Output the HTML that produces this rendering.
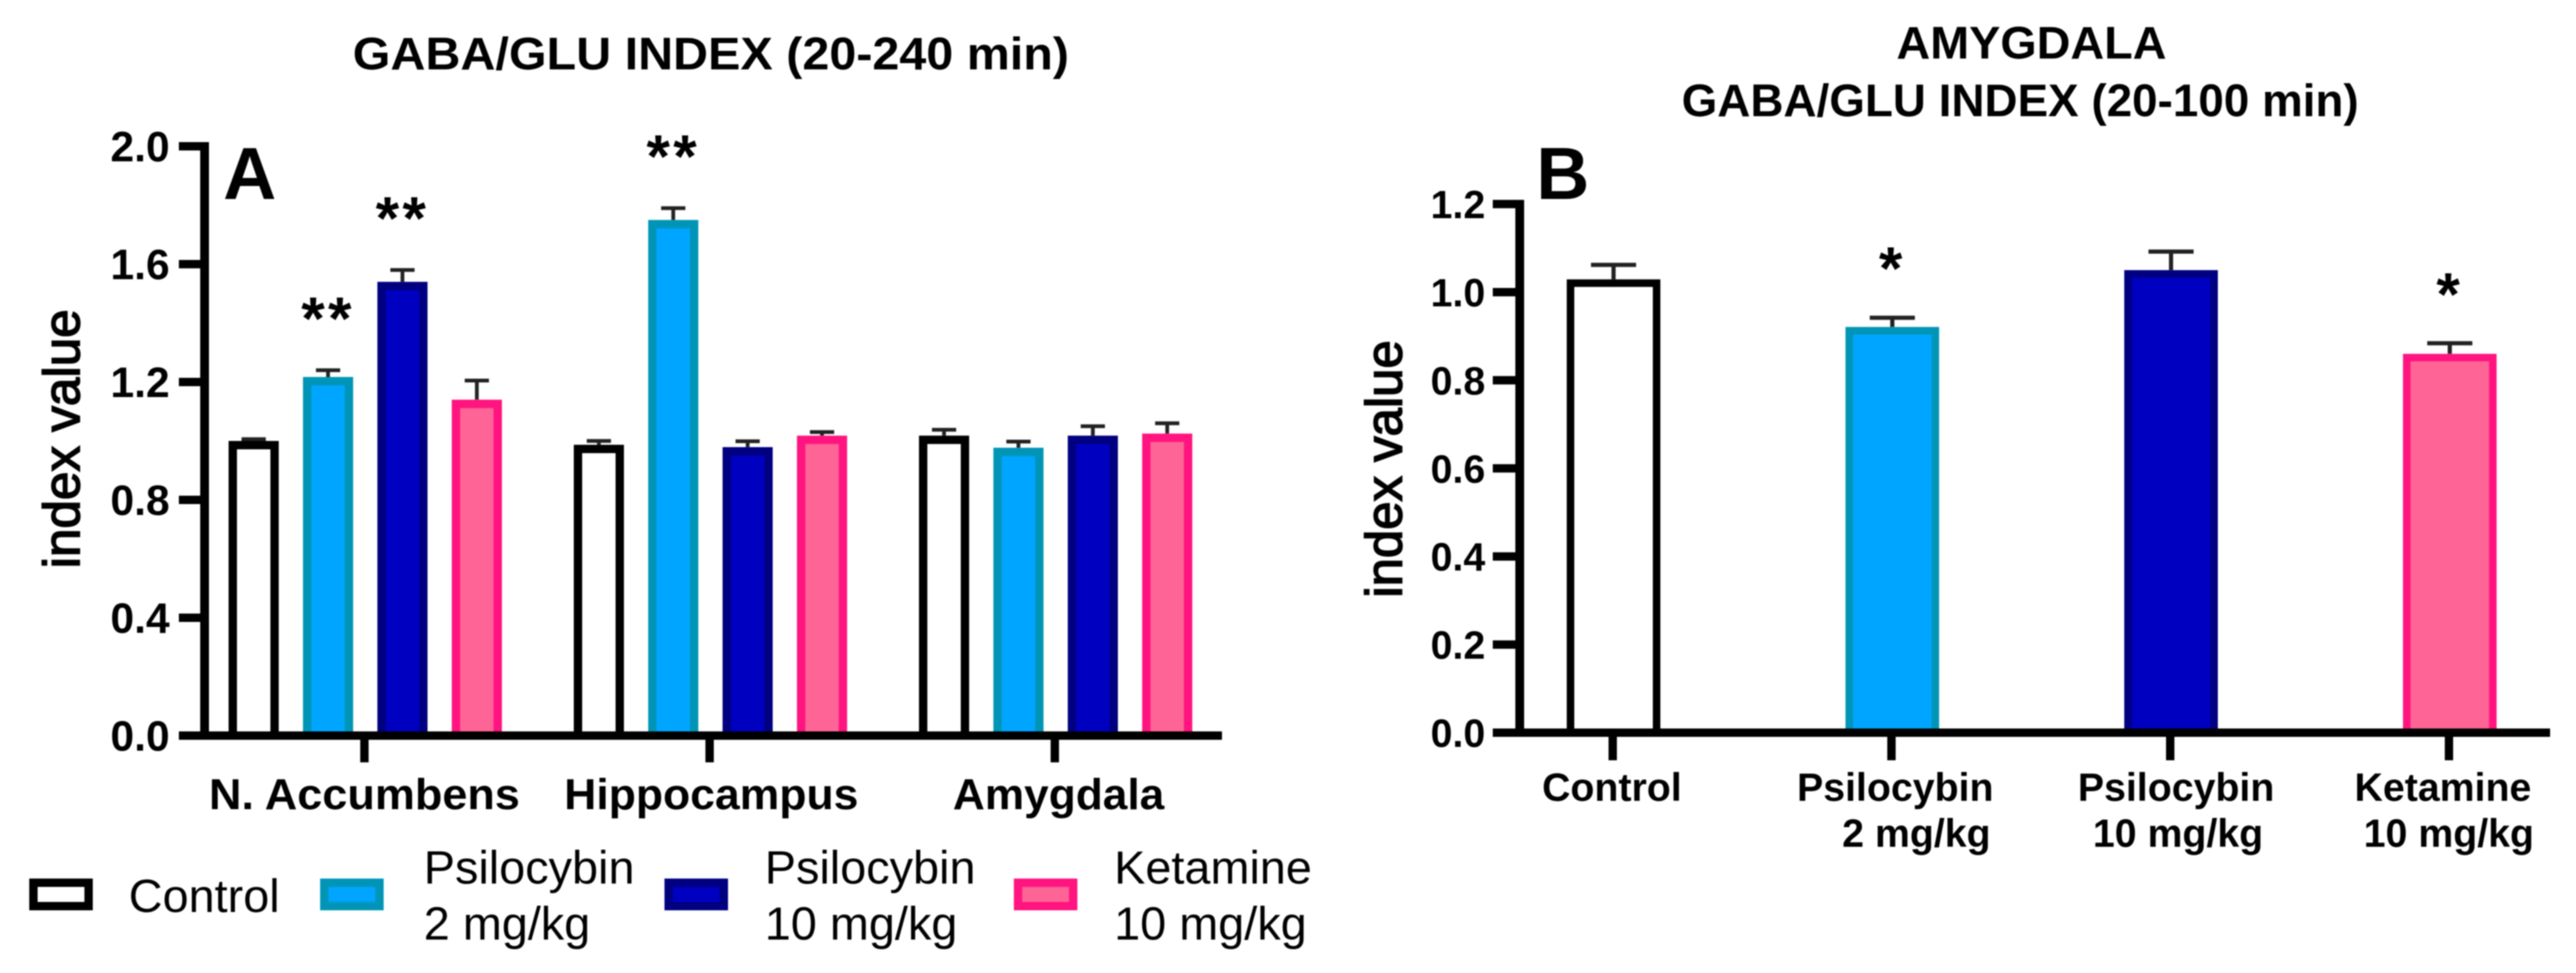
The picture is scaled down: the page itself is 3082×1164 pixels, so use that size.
<!DOCTYPE html>
<html lang="en">
<head>
<meta charset="utf-8">
<title>GABA/GLU index charts</title>
<style>
  html, body { margin: 0; padding: 0; background: #fff; }
  body { width: 3082px; height: 1164px; overflow: hidden; }
  svg { display: block; filter: blur(0.7px); }
  text { font-family: "Liberation Sans", Arial, sans-serif; fill: #000; }
  .b { font-weight: bold; }
  .ylab { stroke: #000; stroke-width: 1.8px; }
</style>
</head>
<body>
<svg id="fig" xmlns="http://www.w3.org/2000/svg" width="3082" height="1164" viewBox="0 0 3082 1164">
  <rect x="0" y="0" width="3082" height="1164" fill="#fff"/>

  <g id="panelA"></g>
  <g id="panelB"></g>

  <text class="b" x="422" y="83" font-size="55" textLength="857" lengthAdjust="spacingAndGlyphs">GABA/GLU INDEX (20-240 min)</text>
  <text class="b" x="267" y="238" font-size="88">A</text>
  <text class="ylab" transform="translate(95,680) rotate(-90)" font-size="61" textLength="310" lengthAdjust="spacingAndGlyphs">index value</text>

  <text class="b" x="250" y="968" font-size="52" textLength="372" lengthAdjust="spacingAndGlyphs">N. Accumbens</text>
  <text class="b" x="675" y="968" font-size="52" textLength="352" lengthAdjust="spacingAndGlyphs">Hippocampus</text>
  <text class="b" x="1140" y="968" font-size="52" textLength="253" lengthAdjust="spacingAndGlyphs">Amygdala</text>

  <g>
    <g>
      <rect x="40" y="1056" width="66" height="28" fill="#fff" stroke="#000" stroke-width="10"/>
      <text x="154" y="1091" font-size="56">Control</text>
    </g>
    <g>
      <rect x="388" y="1056" width="66" height="28" fill="#00a5ff" stroke="#0095b6" stroke-width="10"/>
      <text font-size="56"><tspan x="507" y="1057">Psilocybin</tspan><tspan x="507" y="1124">2 mg/kg</tspan></text>
    </g>
    <g>
      <rect x="800" y="1056" width="66" height="28" fill="#0000c0" stroke="#000080" stroke-width="10"/>
      <text font-size="56"><tspan x="915" y="1057">Psilocybin</tspan><tspan x="915" y="1124">10 mg/kg</tspan></text>
    </g>
    <g>
      <rect x="1218" y="1056" width="66" height="28" fill="#ff6496" stroke="#ff1480" stroke-width="10"/>
      <text font-size="56"><tspan x="1333" y="1057">Ketamine</tspan><tspan x="1333" y="1124">10 mg/kg</tspan></text>
    </g>
  </g>

  <text class="b" x="2269" y="70" font-size="55" textLength="323" lengthAdjust="spacingAndGlyphs">AMYGDALA</text>
  <text class="b" x="2012" y="139" font-size="55" textLength="810" lengthAdjust="spacingAndGlyphs">GABA/GLU INDEX (20-100 min)</text>
  <text class="b" x="1838" y="238" font-size="88">B</text>
  <text class="ylab" transform="translate(1677,715) rotate(-90)" font-size="61" textLength="308" lengthAdjust="spacingAndGlyphs">index value</text>

  <text class="b" x="1845" y="958" font-size="47" textLength="167" lengthAdjust="spacingAndGlyphs">Control</text>
  <text class="b" font-size="47"><tspan x="2150" y="958">Psilocybin</tspan><tspan x="2204" y="1013">2 mg/kg</tspan></text>
  <text class="b" font-size="47"><tspan x="2486" y="958">Psilocybin</tspan><tspan x="2504" y="1013">10 mg/kg</tspan></text>
  <text class="b" font-size="47"><tspan x="2817" y="958">Ketamine</tspan><tspan x="2828" y="1013">10 mg/kg</tspan></text>
</svg>

<script>
// ---------- Chart A data ----------
const regionsA = ['N. Accumbens', 'Hippocampus', 'Amygdala'];
const seriesNames = ['control', 'psilocybin-2', 'psilocybin-10', 'ketamine-10'];
const controlA = [1.00, 0.987, 1.018];
const psilocybin2A = [1.217, 1.75, 0.977];
const psilocybin10A = [1.54, 0.979, 1.018];
const ketamineA = [1.14, 1.018, 1.025];
const controlErrA = [0.006, 0.013, 0.02];
const psilocybin2ErrA = [0.023, 0.04, 0.021];
const psilocybin10ErrA = [0.04, 0.02, 0.032];
const ketamineErrA = [0.065, 0.012, 0.035];
const controlSigA = ['', '', ''];
const psilocybin2SigA = ['**', '**', ''];
const psilocybin10SigA = ['**', '', ''];
const ketamineSigA = ['', '', ''];
const ticksA = [0, 0.4, 0.8, 1.2, 1.6, 2.0];

// ---------- Chart B data ----------
const groupsB = ['Control', 'Psilocybin 2 mg/kg', 'Psilocybin 10 mg/kg', 'Ketamine 10 mg/kg'];
const valuesB = [1.029, 0.921, 1.05, 0.86];
const errorsB = [0.033, 0.021, 0.042, 0.024];
const sigB = ['', '*', '', '*'];
const ticksB = [0, 0.2, 0.4, 0.6, 0.8, 1.0, 1.2];

// ---------- Axis functions ----------
const yA = v => 880 - v * 352.5;
const xGroupA = g => 437 + g * 413;
const xBarA = (g, s) => xGroupA(g) + (s - 1.5) * 89;
const yB = v => 876.5 - v * 527;
const xBarB = i => 1930.5 + i * 333.5;

const NS = 'http://www.w3.org/2000/svg';
const fills = ['#ffffff', '#00a5ff', '#0000c0', '#ff6496'];
const strokes = ['#000000', '#0095b6', '#000080', '#ff1480'];
const panelA = document.getElementById('panelA');
const panelB = document.getElementById('panelB');

function mk(parent, tag, props, txt) {
  const el = document.createElementNS(NS, tag);
  for (const k in props) el.setAttribute(k, props[k]);
  if (txt !== undefined) el.textContent = txt;
  parent.appendChild(el);
  return el;
}

function drawBar(parent, cx, w, yTop, yBase, sw, s, yErr, capW, errW, sig, sigDy, sigFs, name) {
  const stem = mk(parent, 'line', { x1: cx, x2: cx, y1: yTop, y2: yErr, stroke: '#222', 'stroke-width': errW });
  
  
  const cap = mk(parent, 'line', { x1: cx - capW / 2, x2: cx + capW / 2, y1: yErr, y2: yErr, stroke: '#222', 'stroke-width': errW });
  
  
  const bar = mk(parent, 'rect', {
    x: cx - w / 2 + sw / 2, y: yTop + sw / 2,
    width: w - sw, height: yBase - yTop - sw / 2,
    fill: fills[s], stroke: strokes[s], 'stroke-width': sw
  });
  
  
  if (sig) {
    const star = mk(parent, 'text', {
      x: cx, y: yErr - sigDy + 0.46 * sigFs, 'text-anchor': 'middle', 'font-size': sigFs, 'font-weight': 'bold', 'letter-spacing': 4
    }, sig);
    
    
  }
}

// ---------- Draw chart A ----------
const valsA = [controlA, psilocybin2A, psilocybin10A, ketamineA];
const errsA = [controlErrA, psilocybin2ErrA, psilocybin10ErrA, ketamineErrA];
const sigsA = [controlSigA, psilocybin2SigA, psilocybin10SigA, ketamineSigA];
regionsA.forEach((region, g) => {
  seriesNames.forEach((sn, s) => {
    drawBar(panelA, xBarA(g, s), 60, yA(valsA[s][g]), yA(0), 10, s,
      yA(valsA[s][g] + errsA[s][g]), 29, 4.5, sigsA[s][g], 70, 72, 'bar-a-' + g + '-' + sn);
  });
  const t = mk(panelA, 'rect', { x: xGroupA(g) - 6, y: yA(0), width: 10, height: 32, fill: '#000' });
  
  
});
const axisAy = mk(panelA, 'rect', { x: 239.5, y: yA(2) - 5, width: 10.5, height: yA(0) - yA(2) + 10, fill: '#000' });


const axisAx = mk(panelA, 'rect', { x: 214, y: yA(0) - 5, width: 1248, height: 10, fill: '#000' });


ticksA.forEach(v => {
  const t = mk(panelA, 'rect', { x: 214, y: yA(v) - 5, width: 26, height: 10, fill: '#000' });
  
  
  const l = mk(panelA, 'text', { x: 203, y: yA(v) + 18, 'text-anchor': 'end', 'font-size': 51, 'font-weight': 'bold' }, v.toFixed(1));
  
  
});

// ---------- Draw chart B ----------
groupsB.forEach((grp, i) => {
  drawBar(panelB, xBarB(i), 112, yB(valuesB[i]), yB(0), 9, i,
    yB(valuesB[i] + errorsB[i]), 54, 5, sigB[i], 67, 72, 'bar-b-' + seriesNames[i]);
  const t = mk(panelB, 'rect', { x: xBarB(i) - 6, y: yB(0), width: 10, height: 33, fill: '#000' });
  
  
});
const axisBy = mk(panelB, 'rect', { x: 1813, y: yB(1.2) - 5, width: 10.5, height: yB(0) - yB(1.2) + 10, fill: '#000' });


const axisBx = mk(panelB, 'rect', { x: 1786, y: yB(0) - 5, width: 1265, height: 10, fill: '#000' });


ticksB.forEach(v => {
  const t = mk(panelB, 'rect', { x: 1786, y: yB(v) - 5, width: 28, height: 10, fill: '#000' });
  
  
  const l = mk(panelB, 'text', { x: 1777, y: yB(v) + 17, 'text-anchor': 'end', 'font-size': 47, 'font-weight': 'bold' }, v.toFixed(1));
  
  
});
</script>
</body>
</html>
